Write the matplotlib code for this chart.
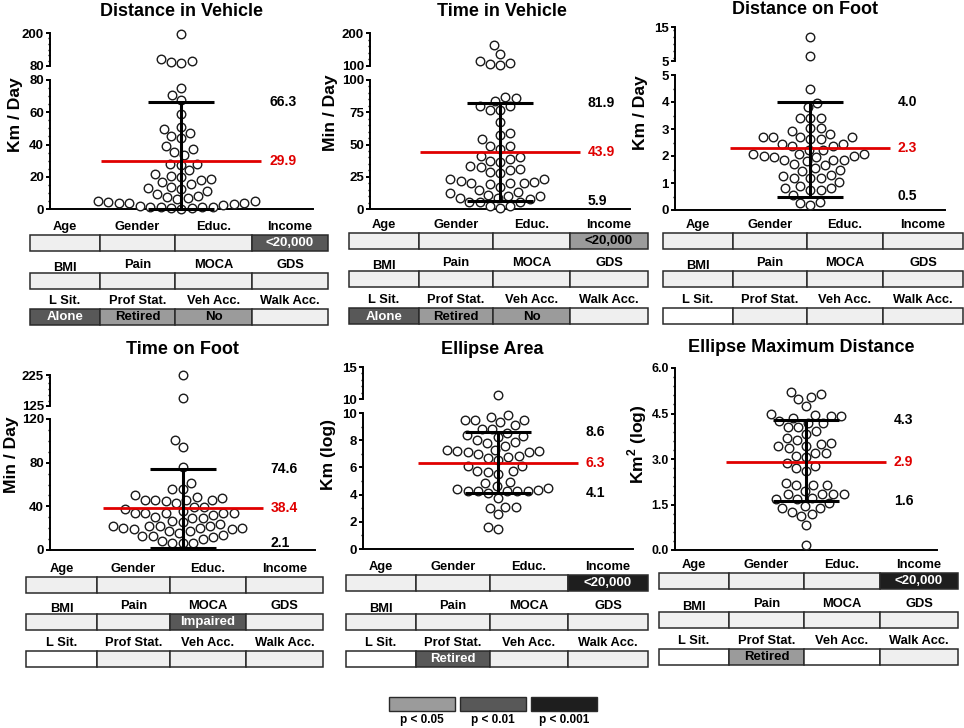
import matplotlib
matplotlib.use("Agg")
import matplotlib.pyplot as plt
import numpy as np
from matplotlib.ticker import MultipleLocator, FixedLocator, FormatStrFormatter
from matplotlib.patches import Rectangle

plt.rcParams['font.family'] = ['Liberation Sans', 'DejaVu Sans']
plt.rcParams['font.weight'] = 'bold'
plt.rcParams['mathtext.fontset'] = 'custom'
plt.rcParams['mathtext.bf'] = 'Liberation Sans:bold'
plt.rcParams['mathtext.rm'] = 'Liberation Sans:bold'

# ---------------- DATA ----------------
titles = ["Distance in Vehicle", "Time in Vehicle", "Distance on Foot",
          "Time on Foot", "Ellipse Area", "Ellipse Maximum Distance"]
ylabels = ["Km / Day", "Min / Day", "Km / Day", "Min / Day", "Km (log)",
           r"Km$^{\mathbf{2}}$ (log)"]

dist_vehicle = [197.6, 105.7, 99.6, 95.9, 92.2,
                74.9, 70.7, 67.6, 58.8, 50.9, 49.5, 47.4, 43.9, 45.0, 39.2, 37.5, 35.3,
                33.6, 28.0, 27.5, 28.2, 23.9, 21.4, 20.2, 19.6, 17.7, 18.5, 16.5, 15.7,
                13.6, 13.0, 12.4, 11.3, 9.3, 8.2, 7.5, 6.6, 6.0, 5.0, 5.0, 4.5, 4.0, 4.0,
                3.5, 3.0, 2.5, 2.0, 1.5, 1.5, 1.0, 1.0, 0.5, 0.5, 0.0]
time_vehicle = [164, 137, 116, 108, 103, 105,
                87.2, 85.9, 84.1, 79.5, 79.5, 76.9, 76.9, 67.4, 59.2, 57.2, 54.1, 48.7,
                48.7, 46.7, 41.3, 40.3, 38.7, 37.2, 36.2, 33.6, 32.8, 30.8, 30.3, 28.7,
                27.7, 23.1, 23.1, 21.5, 21.0, 20.0, 20.0, 19.5, 20.0, 16.7, 14.4, 13.1,
                12.3, 10.5, 10.0, 10.0, 8.5, 8.5, 7.5, 5.1, 5.1, 5.5, 2.0, 2.0, 0.5]
dist_foot = [12.2, 6.5,
             4.47, 3.96, 3.80, 3.42, 3.42, 3.42, 3.03, 3.03, 2.94, 2.81, 2.69, 2.69, 2.69,
             2.69, 2.63, 2.63, 2.46, 2.46, 2.36, 2.36, 2.24, 2.24, 2.08, 2.08, 2.08, 2.01,
             2.01, 1.95, 1.95, 1.87, 1.87, 1.87, 1.80, 1.70, 1.65, 1.55, 1.50, 1.45, 1.30,
             1.25, 1.20, 1.20, 1.20, 1.05, 0.90, 0.80, 0.80, 0.75, 0.75, 0.55, 0.30, 0.25,
             0.20]
time_foot = [225, 150.8,
             101, 94, 75.9, 61.2, 56, 56, 50.5, 47.4, 45.9, 45.9, 45.9, 48.4, 45.9, 43.5,
             45.0, 39.2, 39.2, 38.0, 36.0, 34.3, 34.3, 34.3, 34.3, 34.3, 32.1, 29.7, 29.7,
             30.6, 26.6, 25.7, 23.9, 22.3, 22.3, 22.3, 22.3, 20.5, 20.5, 20.5, 19.0, 19.0,
             17.1, 17.1, 15.3, 14.0, 13.2, 13.2, 11.6, 10.1, 8.6, 6.1, 6.1, 6.1]
ellipse_area = [10.67,
                9.88, 9.68, 9.50, 9.46, 9.46, 9.34, 9.09, 8.85, 8.85, 8.53, 8.35, 8.28,
                8.20, 8.03, 7.84, 7.79, 7.60, 7.30, 7.30, 7.22, 7.22, 7.10, 7.10, 6.98,
                6.86, 6.76, 6.68, 6.56, 6.12, 6.12, 5.70, 5.70, 5.53, 5.63, 4.96, 4.84,
                4.60, 4.52, 4.42, 4.35, 4.23, 4.23, 4.23, 4.23, 4.23, 4.10, 3.78, 3.12,
                3.12, 3.05, 2.56, 1.60, 1.45]
ellipse_max = [5.21, 5.13, 5.05, 4.97, 4.74, 4.48, 4.46, 4.41, 4.41, 4.36, 4.26, 4.19,
               4.19, 4.06, 4.06, 3.92, 3.82, 3.69, 3.62, 3.54, 3.51, 3.42, 3.42, 3.35,
               3.21, 3.21, 3.09, 3.05, 2.87, 2.76, 2.69, 2.60, 2.22, 2.14, 2.14, 2.14,
               1.95, 1.86, 1.86, 1.83, 1.83, 1.72, 1.67, 1.67, 1.54, 1.46, 1.40, 1.40,
               1.26, 1.18, 1.12, 0.81, 0.16]
series = [dist_vehicle, time_vehicle, dist_foot, time_foot, ellipse_area, ellipse_max]

means = [29.9, 43.9, 2.3, 38.4, 6.3, 2.9]
sd_upper = [66.3, 81.9, 4.0, 74.6, 8.6, 4.3]
sd_lower = [0.0, 5.9, 0.5, 2.1, 4.1, 1.6]
show_lower_label = [False, True, True, True, True, True]

bottom_ranges = [(0, 80), (0, 100), (0, 5), (0, 120), (0, 10), (0, 6)]
top_ranges = [(80, 200), (100, 200), (5, 15), (125, 225), (10, 15), None]
bottom_major = [20, 25, 1, 40, 2, 1.5]
bottom_minor = [5, 5, 0.5, 10, 1, 0.3]
top_minor = [20, 20, 2, 20, 1, None]

table_labels = [["Age", "Gender", "Educ.", "Income"],
                ["BMI", "Pain", "MOCA", "GDS"],
                ["L Sit.", "Prof Stat.", "Veh Acc.", "Walk Acc."]]
# significance: -1 blank(white), 0 n.s., 1 p<0.05, 2 p<0.01, 3 p<0.001
sig_levels = [
    [[0, 0, 0, 2], [0, 0, 0, 0], [2, 1, 1, 0]],
    [[0, 0, 0, 1], [0, 0, 0, 0], [2, 1, 1, 0]],
    [[0, 0, 0, 0], [0, 0, 0, 0], [-1, 0, 0, 0]],
    [[0, 0, 0, 0], [0, 0, 2, 0], [-1, 0, 0, 0]],
    [[0, 0, 0, 3], [0, 0, 0, 0], [-1, 2, 0, 0]],
    [[0, 0, 0, 3], [0, 0, 0, 0], [-1, 1, -1, 0]],
]
cell_texts = [
    [["", "", "", "<20,000"], ["", "", "", ""], ["Alone", "Retired", "No", ""]],
    [["", "", "", "<20,000"], ["", "", "", ""], ["Alone", "Retired", "No", ""]],
    [["", "", "", ""], ["", "", "", ""], ["", "", "", ""]],
    [["", "", "", ""], ["", "", "Impaired", ""], ["", "", "", ""]],
    [["", "", "", "<20,000"], ["", "", "", ""], ["", "Retired", "", ""]],
    [["", "", "", "<20,000"], ["", "", "", ""], ["", "Retired", "", ""]],
]
legend_labels = ["p < 0.05", "p < 0.01", "p < 0.001"]

# ---------------- LAYOUT (pixels) ----------------
W, H = 964, 728
geom = [
    dict(x0=50, x1=313, bot=(80, 209), top=(33, 66), title=(181, 11), ylab=(16, 115),
         cols=[30, 100, 175, 252, 328], rows=[235, 273, 309], low_shift=0),
    dict(x0=370, x1=630, bot=(80, 209), top=(33, 66), title=(502, 11), ylab=(330, 113),
         cols=[349, 419, 493, 570, 648], rows=[233, 271, 308], low_shift=0),
    dict(x0=675, x1=945, bot=(75, 210), top=(27, 61), title=(805, 10), ylab=(641, 113),
         cols=[663, 733, 807, 883, 963], rows=[233, 271, 308], low_shift=0),
    dict(x0=50, x1=315, bot=(419, 550), top=(375, 406), title=(182, 349), ylab=(12, 455),
         cols=[26, 97, 170, 246, 323], rows=[577, 614, 651], low_shift=5),
    dict(x0=363, x1=633, bot=(413, 549), top=(367, 399), title=(492, 349), ylab=(329, 455),
         cols=[346, 416, 490, 568, 648], rows=[575, 614, 651], low_shift=0),
    dict(x0=675, x1=937, bot=(368, 550), top=None, title=(801, 347), ylab=(637, 444),
         cols=[659, 729, 804, 880, 958], rows=[573, 612, 649], low_shift=0),
]
CELL_H = 16
RED = '#e00000'
cell_fill = {-1: 'white', 0: '#efefef', 1: '#9b9b9b', 2: '#585858', 3: '#1e1e1e'}
cell_txtc = {-1: 'black', 0: 'black', 1: 'black', 2: 'white', 3: 'white'}

fig = plt.figure(figsize=(W / 100, H / 100), dpi=100)
over = fig.add_axes([0, 0, 1, 1])
over.set_xlim(0, W)
over.set_ylim(H, 0)
over.axis('off')
over.set_zorder(0)


def add_ax(x0, x1, ytop, ybot):
    ax = fig.add_axes([x0 / W, 1 - ybot / H, (x1 - x0) / W, (ybot - ytop) / H])
    ax.patch.set_alpha(0)
    ax.set_zorder(2)
    for s in ['top', 'right']:
        ax.spines[s].set_visible(False)
    ax.spines['left'].set_linewidth(1.4)
    ax.spines['bottom'].set_linewidth(1.4)
    ax.set_xticks([])
    ax.set_xlim(-1, 1)
    ax.tick_params(axis='y', which='major', length=3.2, width=1.4, labelsize=9.5, pad=1.2)
    ax.tick_params(axis='y', which='minor', length=1.8, width=1.0)
    return ax


def swarm_offsets(ypix, D):
    order = np.argsort(ypix, kind='stable')
    placed = []
    xs = np.zeros(len(ypix))
    for i in order:
        y = ypix[i]
        near = [(px, py) for px, py in placed if abs(py - y) < D]
        cands = [0.0]
        for px, py in near:
            dx = np.sqrt(D * D - (py - y) ** 2)
            cands += [px + dx, px - dx]
        cands.sort(key=lambda c: (abs(c), c))
        chosen = cands[-1]
        for c in cands:
            if all((c - px) ** 2 + (y - py) ** 2 >= D * D - 1e-6 for px, py in near):
                chosen = c
                break
        xs[i] = chosen
        placed.append((chosen, y))
    return xs


def plot_points(ax, vals, width_px):
    vals = np.asarray(vals, dtype=float)
    if len(vals) == 0:
        return
    ypix = ax.transData.transform(np.column_stack([np.zeros_like(vals), vals]))[:, 1]
    xo = swarm_offsets(ypix, 10.5)
    xd = xo * 2.0 / width_px
    ax.scatter(xd, vals, s=38, facecolor='white', edgecolor='#1a1a1a',
               linewidths=1.0, zorder=3, clip_on=False)


for k in range(6):
    g = geom[k]
    vals = np.asarray(series[k], dtype=float)
    wpx = g['x1'] - g['x0']
    b0, b1 = bottom_ranges[k]
    axb = add_ax(g['x0'], g['x1'], g['bot'][0], g['bot'][1])
    axb.set_ylim(b0, b1)
    axb.yaxis.set_major_locator(MultipleLocator(bottom_major[k]))
    axb.yaxis.set_minor_locator(MultipleLocator(bottom_minor[k]))
    if k == 5:
        axb.yaxis.set_major_formatter(FormatStrFormatter('%.1f'))
        axb.tick_params(axis='y', which='major', labelsize=8.8)
    if top_ranges[k] is not None:
        t0, t1 = top_ranges[k]
        axt = add_ax(g['x0'], g['x1'], g['top'][0], g['top'][1])
        axt.spines['bottom'].set_visible(False)
        axt.set_ylim(t0, t1)
        axt.yaxis.set_major_locator(FixedLocator([t0, t1]))
        axt.yaxis.set_minor_locator(MultipleLocator(top_minor[k]))
        plot_points(axt, vals[vals > b1], wpx)
        plot_points(axb, vals[vals <= b1], wpx)
    else:
        plot_points(axb, vals, wpx)

    hw_red = 80 * 2.0 / wpx
    hw_cap = 33 * 2.0 / wpx
    lx = 88 * 2.0 / wpx
    axb.plot([-hw_red, hw_red], [means[k], means[k]], color=RED, lw=2.0,
             zorder=4, solid_capstyle='butt')
    axb.plot([0, 0], [sd_lower[k], sd_upper[k]], color='black', lw=2.2, zorder=5,
             solid_capstyle='butt', clip_on=False)
    for v in (sd_upper[k], sd_lower[k]):
        axb.plot([-hw_cap, hw_cap], [v, v], color='black', lw=2.2, zorder=5,
                 solid_capstyle='butt', clip_on=False)
    axb.text(lx, means[k], f"{means[k]:.1f}", color=RED, fontsize=10,
             fontweight='bold', va='center', ha='left')
    axb.text(lx, sd_upper[k], f"{sd_upper[k]:.1f}", color='black', fontsize=10,
             fontweight='bold', va='center', ha='left')
    if show_lower_label[k]:
        ylow_pix = axb.transData.transform((0, sd_lower[k]))[1] + g['low_shift']
        ylow = axb.transData.inverted().transform((0, ylow_pix))[1]
        axb.text(lx, ylow, f"{sd_lower[k]:.1f}", color='black', fontsize=10,
                 fontweight='bold', va='center', ha='left')

    over.text(g['title'][0], g['title'][1], titles[k], ha='center', va='center',
              fontsize=13, fontweight='bold')
    over.text(g['ylab'][0], g['ylab'][1], ylabels[k], ha='center', va='center',
              rotation=90, fontsize=12.6, fontweight='bold')

    cols = g['cols']
    for r in range(3):
        ytop = g['rows'][r]
        for c in range(4):
            lev = sig_levels[k][r][c]
            over.add_patch(Rectangle((cols[c], ytop), cols[c + 1] - cols[c], CELL_H,
                                     facecolor=cell_fill[lev], edgecolor='#2a2a2a',
                                     lw=1.1))
            cx = (cols[c] + cols[c + 1]) / 2
            lab = table_labels[r][c]
            dy = 3 if lab == "BMI" else 0
            over.text(cx, ytop - 8 + dy, lab, ha='center', va='center',
                      fontsize=9.3, fontweight='bold')
            t = cell_texts[k][r][c]
            if t:
                over.text(cx, ytop + CELL_H / 2 + 0.5, t, ha='center', va='center',
                          fontsize=9.5, fontweight='bold', color=cell_txtc[lev])

leg_x = [389, 460, 531]
for i, lab in enumerate(legend_labels):
    over.add_patch(Rectangle((leg_x[i], 697), 66, 14, facecolor=cell_fill[i + 1],
                             edgecolor='#2a2a2a', lw=1.0))
    over.text(leg_x[i] + 33, 720, lab, ha='center', va='center', fontsize=8.5,
              fontweight='bold')

fig.savefig("out.png", dpi=100)
